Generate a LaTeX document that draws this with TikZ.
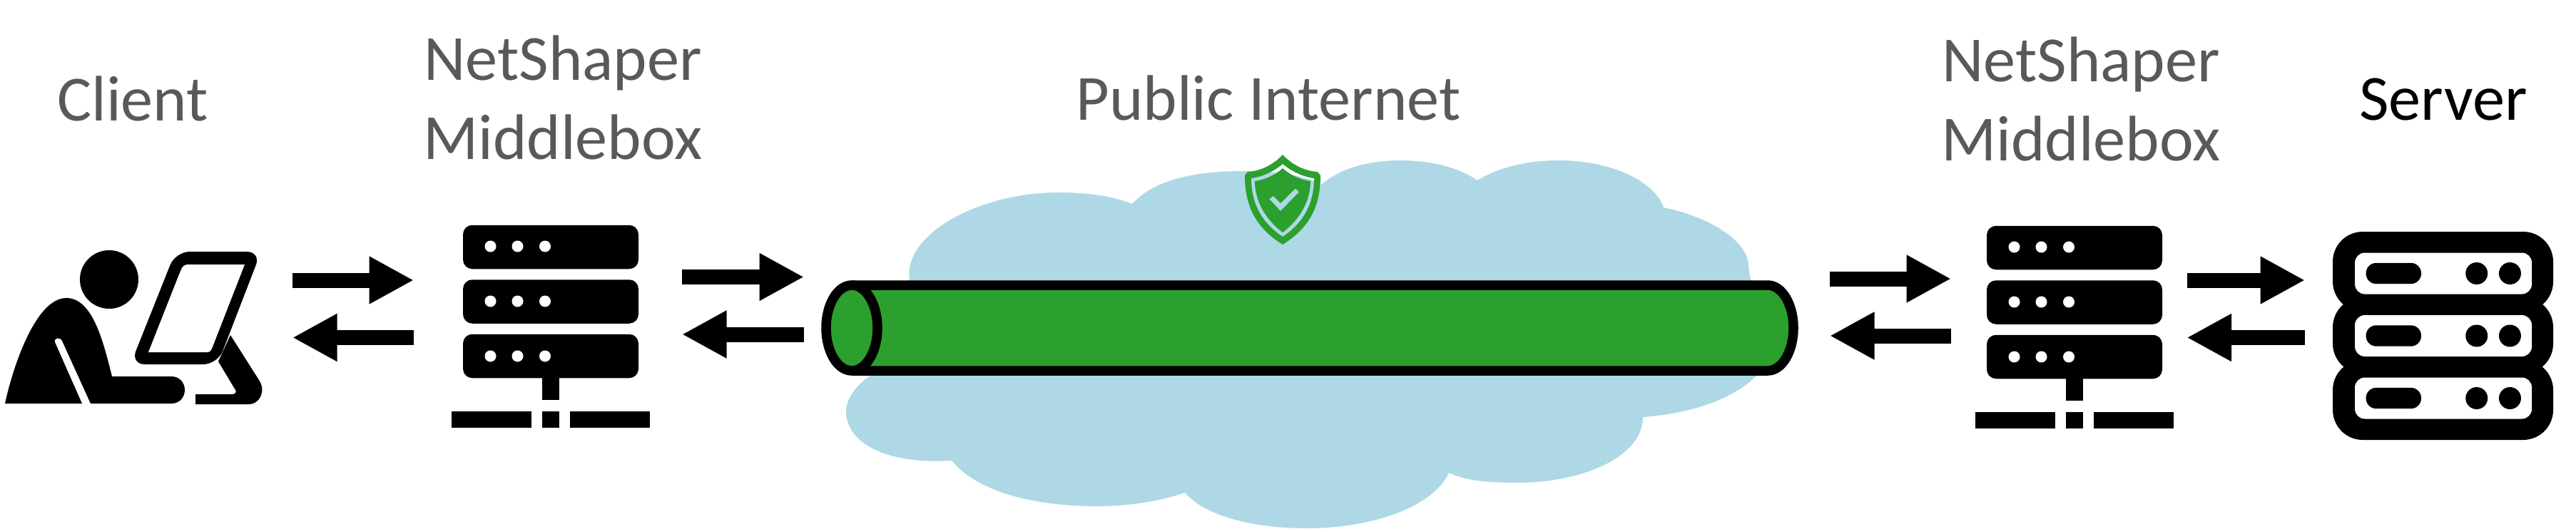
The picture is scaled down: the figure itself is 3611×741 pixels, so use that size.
\documentclass[tikz,border=0pt]{standalone}
\usepackage{xcolor}
\usepackage{fontspec}
\setmainfont{Carlito}
\usepackage{tikz}
\usetikzlibrary{positioning,arrows.meta}

\definecolor{cloudblue}{HTML}{AED8E6}
\definecolor{tubegreen}{HTML}{2CA02E}
\definecolor{labelgray}{HTML}{595959}

\tikzset{
    caption/.style={font=\fontsize{25.7}{31.3}\selectfont,text=labelgray,inner sep=0,anchor=base,align=center},
    slot/.style={minimum height=10mm,inner sep=0,outer sep=0},
    rack/.style={fill=black,rounded corners=1.3mm,minimum width=24.6mm,minimum height=6.15mm,inner sep=0},
    flow/.style={line width=2.1mm,-{Triangle[length=6.25mm,width=6.25mm]}}
}

\begin{document}
\begin{tikzpicture}[x=0.1mm,y=-0.1mm]
    \useasboundingbox (0,0) rectangle (3611,741);

    \node [caption] (clientlabel) at (186,169) {Client};
    \node [caption] (mbLlabel) at (789,223) {NetShaper\\Middlebox};
    \node [caption] (netlabel) at (1778,168) {Public Internet};
    \node [caption] (mbRlabel) at (2917,225) {NetShaper\\Middlebox};
    \node [caption,text=black] (serverlabel) at (3425,168) {Server};

    \node [slot,minimum width=41mm] (client) at (205,431) {};
    \node [slot,minimum width=37.6mm] (mbL) at (768,431) {};
    \node [slot,minimum width=143.8mm] (net) at (1846,431) {};
    \node [slot,minimum width=33.05mm] (mbR) at (2900.25,431) {};
    \node [slot,minimum width=38mm] (server) at (3421,431) {};

    % client
    \fill (153,392) circle [radius=41];
    \fill (7,566) .. controls (18,515) and (50,418) .. (93,418) .. controls (130,418) and (145,480) .. (157,528)
        -- (240,528) .. controls (252,528) and (259,537) .. (259,547) .. controls (259,557) and (252,566) .. (240,566)
        -- (127,566) -- (87,478) .. controls (84,472) and (75,474) .. (77,480) -- (115,566) -- cycle;
    \fill (323,470) -- (363,533) .. controls (373,548) and (365,567) .. (348,567) -- (274,567) -- (274,553) -- (325,553)
        .. controls (330,553) and (332,550) .. (330,547) -- (306,507) -- cycle;
    \fill [rounded corners=2mm] (246,353) -- (366,353) -- (305,511) -- (183,511) -- cycle;
    \fill [white] (208,494) -- (251,385) [rounded corners=0.6mm] -- (257,371) [sharp corners] -- (343,371) -- (297,489)
        .. controls (296,492) and (294,494) .. (290,494) -- cycle;

    % middleboxes
    \foreach \mb/\dx/\dy in {L/0/0,R/2136/1} {
        \node [rack] (\mb a) at (772+\dx,346.5+\dy) {};
        \node [rack] (\mb b) at (772+\dx,423+\dy) {};
        \node [rack] (\mb c) at (772+\dx,499.5+\dy) {};
        \foreach \row in {345.5,422.5,499.5} {
            \foreach \col in {687.5,725.5,764} {
                \fill [white] (\col+\dx,\row+\dy) circle [radius=8];
            }
        }
        \fill (760+\dx,530+\dy) rectangle (784+\dx,561+\dy);
        \fill (633+\dx,576.5+\dy) rectangle (745+\dx,600+\dy);
        \fill (760+\dx,576.5+\dy) rectangle (784+\dx,600+\dy);
        \fill (799+\dx,576.5+\dy) rectangle (911+\dx,600+\dy);
    }

    % cloud
    \fill [cloudblue] (1275,393) .. controls (1265,330) and (1370,270) .. (1484,270) .. controls (1525,270) and (1560,275) .. (1587,286)
        .. controls (1620,250) and (1680,240) .. (1743,240) .. controls (1790,240) and (1825,245) .. (1852,259)
        .. controls (1880,235) and (1920,225) .. (1964,225) .. controls (2005,225) and (2045,235) .. (2071,253)
        .. controls (2100,235) and (2140,225) .. (2185,225) .. controls (2260,225) and (2320,255) .. (2332,291)
        .. controls (2400,305) and (2451,340) .. (2451,373) .. controls (2455,420) and (2490,480) .. (2462,527)
        .. controls (2430,560) and (2370,580) .. (2303,585) .. controls (2303,640) and (2220,677) .. (2127,677)
        .. controls (2090,677) and (2055,675) .. (2031,663) .. controls (2010,710) and (1925,741) .. (1832,741)
        .. controls (1760,741) and (1690,725) .. (1661,691) .. controls (1625,703) and (1585,710) .. (1537,710)
        .. controls (1450,710) and (1370,690) .. (1334,646) .. controls (1240,652) and (1186,620) .. (1186,577)
        .. controls (1186,560) and (1200,540) .. (1220,527) -- cycle;

    % tube
    \draw [line width=1.35mm,fill=tubegreen] (1194,400) -- (2478,400) .. controls (2498,400) and (2514,427) .. (2514,460)
        .. controls (2514,493) and (2498,520) .. (2478,520) -- (1194,520);
    \draw [line width=1.35mm,fill=tubegreen] (1194,460) ellipse [x radius=36,y radius=60];

    % shield
    \fill [tubegreen,even odd rule] (1798,217) .. controls (1812,232) and (1830,240) .. (1847,241) -- (1851,246)
        .. controls (1851,290) and (1835,320) .. (1798,343) .. controls (1761,320) and (1745,290) .. (1745,246)
        -- (1749,241) .. controls (1766,240) and (1784,232) .. (1798,217) -- cycle
        (1798,230) .. controls (1810,240) and (1826,248) .. (1842,250) .. controls (1842,285) and (1828,312) .. (1798,332)
        .. controls (1768,312) and (1754,285) .. (1754,250) .. controls (1770,248) and (1786,240) .. (1798,230) -- cycle
        (1798,236) .. controls (1808,245) and (1822,252) .. (1837,254) .. controls (1837,282) and (1822,308) .. (1798,326)
        .. controls (1774,308) and (1759,282) .. (1759,254) .. controls (1774,252) and (1788,245) .. (1798,236) -- cycle
        (1779.3,279) -- (1785,275) -- (1795,285) -- (1816,264.3) -- (1821,269.3) -- (1795,296) -- cycle;

    % server
    \foreach \top/\bot in {325/437,417/524,505/617} {
        \fill [rounded corners=4.2mm] (3270,\top) rectangle (3579,\bot);
    }
    \foreach \row in {383.5,471,558.5} {
        \fill [white,rounded corners=1.4mm] (3301,\row-29) rectangle (3549,\row+29);
        \fill [rounded corners=1.45mm] (3316.5,\row-14.7) rectangle (3394,\row+14.7);
        \fill (3471.7,\row) circle [radius=15.5];
        \fill (3518.4,\row) circle [radius=15.5];
    }

    % arrows
    \draw [flow] ([yshift=3.8mm]client.east) -- ([yshift=3.8mm]mbL.west);
    \draw [flow] ([yshift=-4.25mm]mbL.west) -- ([yshift=-4.25mm]client.east);
    \draw [flow] ([yshift=4.25mm]mbL.east) -- ([yshift=4.25mm]net.west);
    \draw [flow] ([yshift=-3.8mm]net.west) -- ([yshift=-3.8mm]mbL.east);
    \draw [flow] ([yshift=4mm]net.east) -- ([yshift=4mm]mbR.west);
    \draw [flow] ([yshift=-4mm]mbR.west) -- ([yshift=-4mm]net.east);
    \draw [flow] ([yshift=3.8mm]mbR.east) -- ([yshift=3.8mm]server.west);
    \draw [flow] ([yshift=-4.25mm]server.west) -- ([yshift=-4.25mm]mbR.east);
\end{tikzpicture}
\end{document}
